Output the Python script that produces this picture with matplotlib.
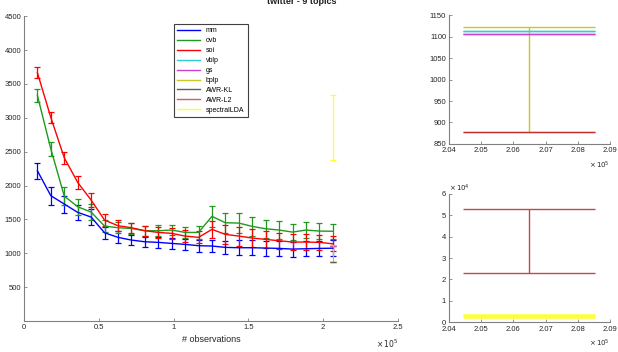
import numpy as np
import matplotlib.pyplot as plt
from matplotlib.lines import Line2D

plt.rcParams['font.family'] = ['Liberation Sans', 'DejaVu Sans']

# x positions (# observations)
n_obs = np.arange(1, 24) * 8978

mm = [2218, 1850, 1727, 1604, 1535, 1303, 1235, 1195, 1170, 1161, 1146, 1131,
      1112, 1107, 1087, 1082, 1082, 1077, 1072, 1062, 1067, 1072, 1075]
mm_err = [120, 130, 125, 110, 120, 90, 90, 80, 75, 80, 85, 85,
          90, 95, 100, 110, 110, 110, 110, 110, 110, 110, 120]

ovb = [3330, 2540, 1845, 1687, 1608, 1402, 1377, 1367, 1333, 1333, 1343, 1308,
       1308, 1545, 1451, 1446, 1397, 1362, 1343, 1313, 1343, 1328, 1325]
ovb_err = [100, 110, 130, 120, 120, 90, 80, 75, 75, 80, 80, 85,
           90, 155, 150, 150, 140, 135, 130, 120, 120, 115, 110]

soi = [3665, 3005, 2410, 2046, 1786, 1490, 1407, 1377, 1333, 1308, 1294, 1254,
       1235, 1353, 1279, 1254, 1225, 1205, 1185, 1166, 1166, 1161, 1140]
soi_err = [80, 85, 90, 100, 110, 90, 80, 75, 75, 80, 80, 85,
           90, 130, 140, 140, 130, 125, 120, 120, 120, 115, 110]

# single-point methods at the last x position
last_x = n_obs[-1]
vblp, vblp_err = 1113, 0
gs, gs_err = 1107, 0
bplp, bplp_err = 1000, 123
awr_kl, awr_kl_err = 877, 0
awr_l2, awr_l2_err = 38000, 15000
spectral, spectral_err = 2860, 480

labels = ['mm', 'ovb', 'soi', 'vblp', 'gs', 'bplp', 'AWR-KL', 'AWR-L2', 'spectralLDA']
colors = ['#0000ff', '#1f9a1f', '#ff0000', '#30d0d0', '#d040d0', '#c8c820',
          '#606060', '#d06060', '#ffff30']

cap_half = 2050  # half width of the caps in data units (for the zoom panels)

fig = plt.figure(figsize=(6.18, 3.52), dpi=100)
ax = fig.add_axes([0.0388, 0.088, 0.605, 0.866])

series = [(mm, mm_err), (ovb, ovb_err), (soi, soi_err)]
for (y, e), c in zip(series, colors[:3]):
    ax.errorbar(n_obs, y, yerr=e, color=c, lw=1.0, elinewidth=0.9,
                capsize=2.2, capthick=0.9)

singles = [(vblp, vblp_err), (gs, gs_err), (bplp, bplp_err),
           (awr_kl, awr_kl_err), (awr_l2, awr_l2_err), (spectral, spectral_err)]
for (y, e), c in zip(singles, colors[3:]):
    ax.errorbar([last_x], [y], yerr=[e], color=c, lw=1.0, elinewidth=0.9,
                capsize=2.2, capthick=0.9)

ax.set_xlim(0, 2.5e5)
ax.set_ylim(0, 4500)
ax.set_xticks(np.arange(0, 2.51e5, 0.5e5))
ax.set_xticklabels(['0', '0.5', '1', '1.5', '2', '2.5'])
ax.set_yticks(np.arange(500, 4501, 500))
ax.set_xlabel('# observations', fontsize=6.5, color='#262626', labelpad=3)
ax.text(1.0, -0.055, r'$\times\,10^5$', transform=ax.transAxes, fontsize=5.5,
        color='#262626', ha='right', va='top')

handles = [Line2D([], [], color=c, lw=1.0) for c in colors]
leg = ax.legend(handles, labels, loc='upper center', bbox_to_anchor=(0.5, 0.985),
                fontsize=5, handlelength=3.3, labelspacing=0.42, borderpad=0.45,
                fancybox=False, edgecolor='#404040', framealpha=1)
leg.get_frame().set_linewidth(0.8)

fig.text(302 / 618, 0.995, 'twitter - 9 topics', ha='center', va='center',
         fontsize=6.5, fontweight='bold', color='#202020')


def style(a):
    for s in ['top', 'right']:
        a.spines[s].set_visible(False)
    for s in ['left', 'bottom']:
        a.spines[s].set_color('#808080')
        a.spines[s].set_linewidth(0.8)
    a.tick_params(direction='in', length=2.5, width=0.6, colors='#808080',
                  labelsize=5.5, labelcolor='#262626', pad=2)


style(ax)

# zoom panel 1: caps near 1000
ax2 = fig.add_axes([0.7265, 0.591, 0.2605, 0.366])
top_items = [(bplp, bplp_err, colors[5]), (vblp, vblp_err, colors[3]),
             (gs, gs_err, colors[4])]
for y, e, c in top_items:
    ax2.hlines([y - e, y + e], last_x - cap_half, last_x + cap_half, color=c, lw=1.0)
    ax2.vlines(last_x, y - e, y + e, color=c, lw=1.0)
ax2.hlines(awr_kl, last_x - cap_half, last_x + cap_half, color='#c03030', lw=1.0)
ax2.set_xlim(2.04e5, 2.09e5)
ax2.set_ylim(850, 1150)
ax2.set_xticks(np.arange(2.04e5, 2.091e5, 0.01e5))
ax2.set_xticklabels(['2.04', '2.05', '2.06', '2.07', '2.08', '2.09'])
ax2.set_yticks(np.arange(850, 1151, 50))
ax2.text(1.0, -0.12, r'$\times\,10^5$', transform=ax2.transAxes, fontsize=5,
         color='#262626', ha='right', va='top')
style(ax2)

# zoom panel 2: large values
ax3 = fig.add_axes([0.7265, 0.085, 0.2605, 0.364])
bot_items = [(awr_l2, awr_l2_err, '#c04848', 1.0), (spectral, spectral_err, colors[8], 1.8)]
for y, e, c, w in bot_items:
    ax3.hlines([y - e, y + e], last_x - cap_half, last_x + cap_half, color=c, lw=w)
    ax3.vlines(last_x, y - e, y + e, color=c, lw=1.0)
ax3.set_xlim(2.04e5, 2.09e5)
ax3.set_ylim(0, 6e4)
ax3.set_xticks(np.arange(2.04e5, 2.091e5, 0.01e5))
ax3.set_xticklabels(['2.04', '2.05', '2.06', '2.07', '2.08', '2.09'])
ax3.set_yticks(np.arange(0, 6.1e4, 1e4))
ax3.set_yticklabels([str(i) for i in range(7)])
ax3.tick_params(axis='x', pad=3)
ax3.text(1.0, -0.12, r'$\times\,10^5$', transform=ax3.transAxes, fontsize=5,
         color='#262626', ha='right', va='top')
ax3.text(0.0, 1.0, r'$\times\,10^4$', transform=ax3.transAxes, fontsize=5,
         color='#262626', ha='left', va='bottom')
style(ax3)
ax3.tick_params(axis='x', pad=3)

fig.savefig('out.png', dpi=100)
